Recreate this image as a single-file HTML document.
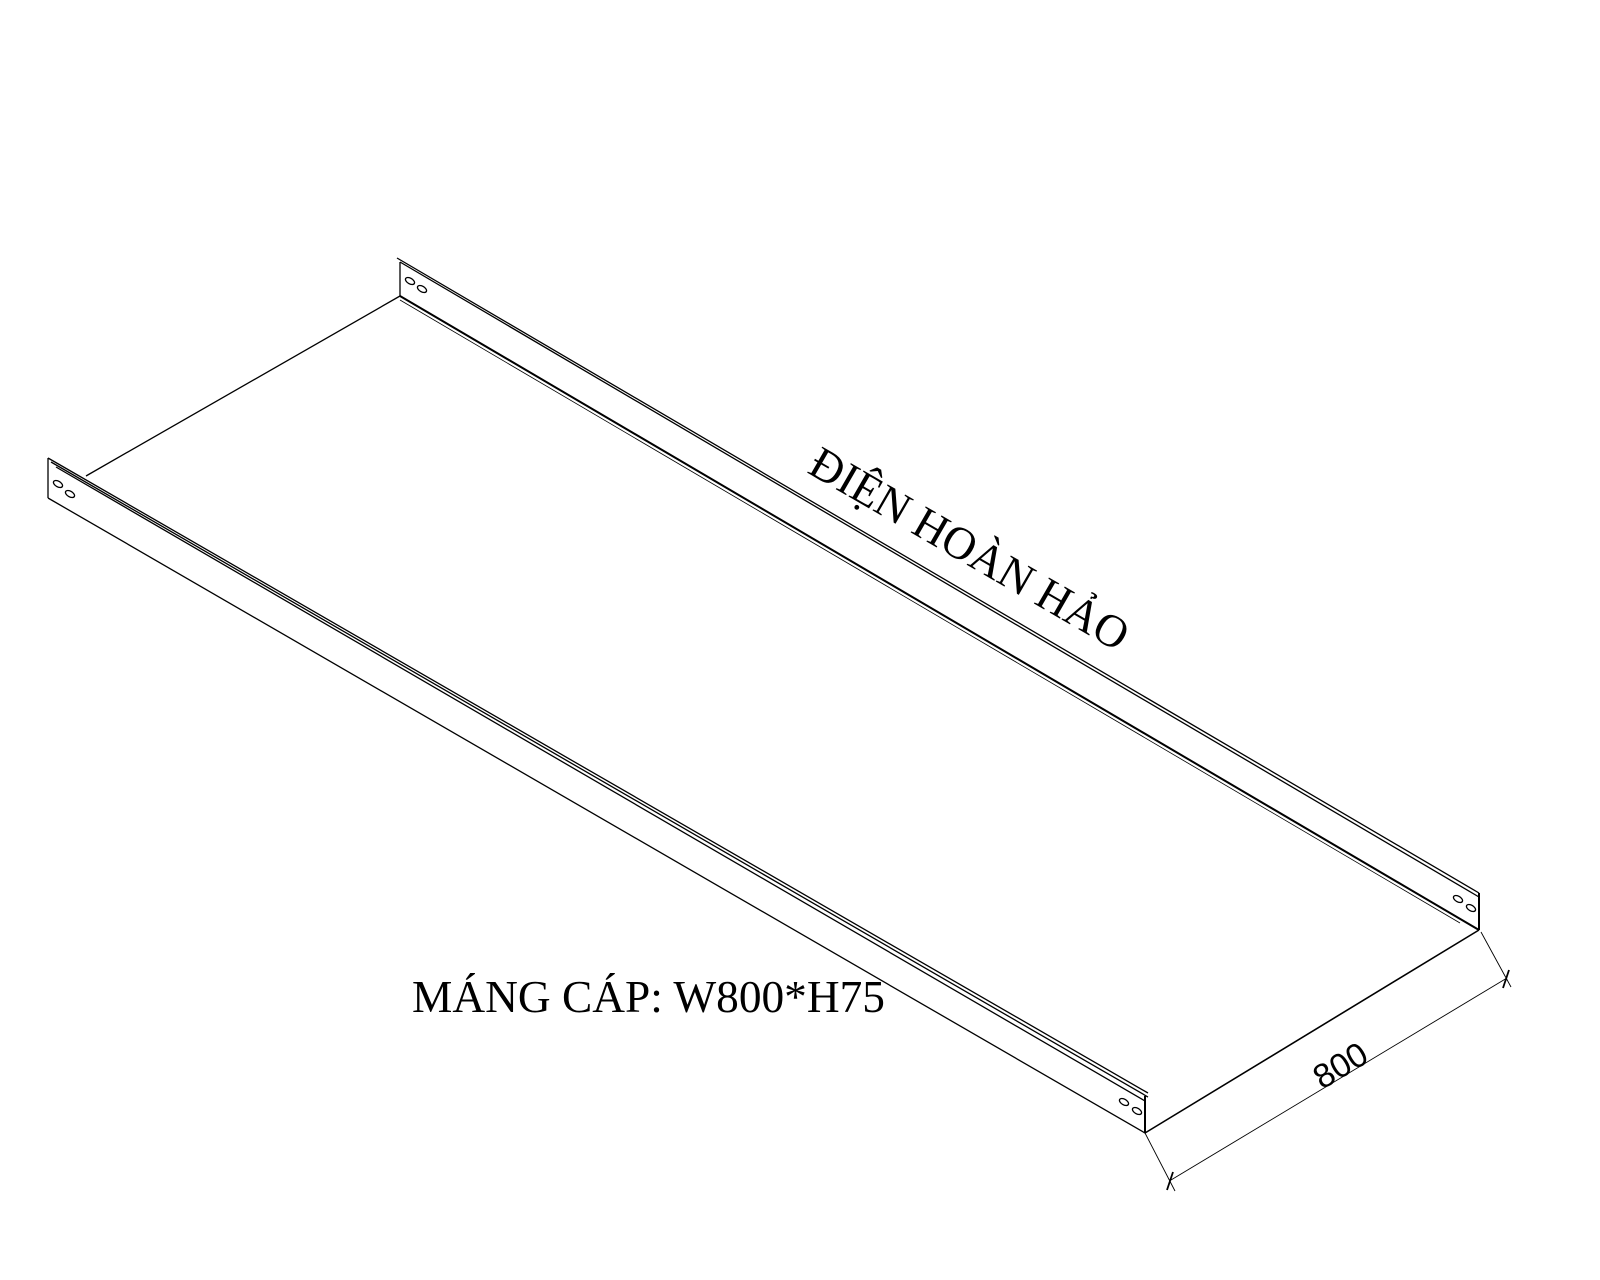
<!DOCTYPE html>
<html><head><meta charset="utf-8"><style>html,body{margin:0;padding:0;background:#fff}svg{display:block}</style></head>
<body>
<svg width="1600" height="1280" viewBox="0 0 1600 1280" xmlns="http://www.w3.org/2000/svg">
<g stroke="#000" fill="none" stroke-width="1.3">
<!-- front panel -->
<line x1="48" y1="458" x2="48" y2="498"/>
<line x1="48" y1="498" x2="1145" y2="1133"/>
<line x1="48" y1="458" x2="1148" y2="1093"/>
<line x1="51" y1="462" x2="1148" y2="1097"/>
<line x1="56" y1="467" x2="1145" y2="1101"/>
<line x1="1145" y1="1096" x2="1145" y2="1133" stroke-width="2"/>
<!-- back panel -->
<line x1="397" y1="258" x2="1479" y2="893"/>
<line x1="400" y1="262" x2="1479" y2="897"/>
<line x1="400" y1="262" x2="400" y2="296"/>
<line x1="400" y1="296" x2="1479" y2="930" stroke-width="2"/>
<line x1="400" y1="300" x2="1460" y2="923" stroke-width="0.8"/>
<line x1="1479" y1="893" x2="1479" y2="930" stroke-width="2"/>
<!-- floor edges -->
<line x1="86" y1="476" x2="400" y2="296"/>
<line x1="1145" y1="1133" x2="1479" y2="930" stroke-width="1.6"/>
<!-- dimension -->
<g stroke-width="0.9">
<line x1="1145" y1="1133" x2="1175" y2="1191"/>
<line x1="1481" y1="932" x2="1511" y2="987"/>
<line x1="1171" y1="1180" x2="1507" y2="978"/>
</g>
<line x1="1167" y1="1190" x2="1173" y2="1172" stroke-width="1.8"/>
<line x1="1503" y1="988" x2="1509" y2="970" stroke-width="1.8"/>
<!-- holes -->
<g stroke-width="1.3">
<ellipse cx="58" cy="484" rx="5" ry="2.8" transform="rotate(30 58 484)"/>
<ellipse cx="70" cy="494" rx="5" ry="2.8" transform="rotate(30 70 494)"/>
<ellipse cx="410" cy="281" rx="5" ry="2.8" transform="rotate(30 410 281)"/>
<ellipse cx="422" cy="289" rx="5" ry="2.8" transform="rotate(30 422 289)"/>
<ellipse cx="1124" cy="1102" rx="5" ry="2.8" transform="rotate(30 1124 1102)"/>
<ellipse cx="1137" cy="1111" rx="5" ry="2.8" transform="rotate(30 1137 1111)"/>
<ellipse cx="1458" cy="899" rx="5" ry="2.8" transform="rotate(30 1458 899)"/>
<ellipse cx="1471" cy="908" rx="5" ry="2.8" transform="rotate(30 1471 908)"/>
</g>
</g>
<text x="412" y="1012" font-family="Liberation Serif, serif" font-size="46" textLength="473" lengthAdjust="spacingAndGlyphs">MÁNG CÁP: W800*H75</text>
<text transform="translate(806,472) rotate(30)" font-family="Liberation Serif, serif" font-size="46" textLength="360" lengthAdjust="spacingAndGlyphs">ĐIỆN HOÀN HẢO</text>
<text transform="translate(1322,1090) rotate(-31)" font-family="Liberation Sans, sans-serif" font-size="34">800</text>
</svg>
</body></html>
